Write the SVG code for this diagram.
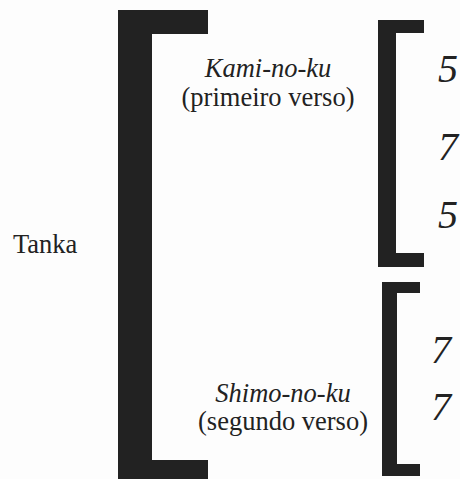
<svg xmlns="http://www.w3.org/2000/svg" width="460" height="479" viewBox="0 0 460 479">
<style>
.br{fill:#222;}
.t{font-family:"Liberation Serif","Times New Roman",serif;font-size:26.5px;fill:#222;}
.i{font-style:italic;}
.n{font-family:"Liberation Serif","Times New Roman",serif;font-size:40px;font-style:italic;fill:#222;}
</style>
<rect width="460" height="479" fill="#fdfdfd"/>
<g id="tanka">
<text class="t" x="13" y="253">Tanka</text>
</g>
<g id="tanka-bracket">
<path class="br" d="M118,10 H208 V34 H152 V460 H208 V479 H118 Z"/>
</g>
<g id="kami-no-ku">
<text class="t i" x="268" y="77" text-anchor="middle">Kami-no-ku</text>
<text class="t" x="268" y="106" text-anchor="middle">(primeiro verso)</text>
</g>
<g id="shimo-no-ku">
<text class="t i" x="283" y="402" text-anchor="middle">Shimo-no-ku</text>
<text class="t" x="283" y="430" text-anchor="middle">(segundo verso)</text>
</g>
<g id="kami-bracket">
<path class="br" d="M378,20 H424 V33 H396 V253 H424 V267 H378 Z"/>
<text class="n" x="438" y="82">5</text>
<text class="n" x="438" y="160">7</text>
<text class="n" x="438" y="228">5</text>
</g>
<g id="shimo-bracket">
<path class="br" d="M382,282 H420 V293 H397 V464 H420 V476 H382 Z"/>
<text class="n" x="431" y="363">7</text>
<text class="n" x="431" y="420">7</text>
</g>
</svg>
